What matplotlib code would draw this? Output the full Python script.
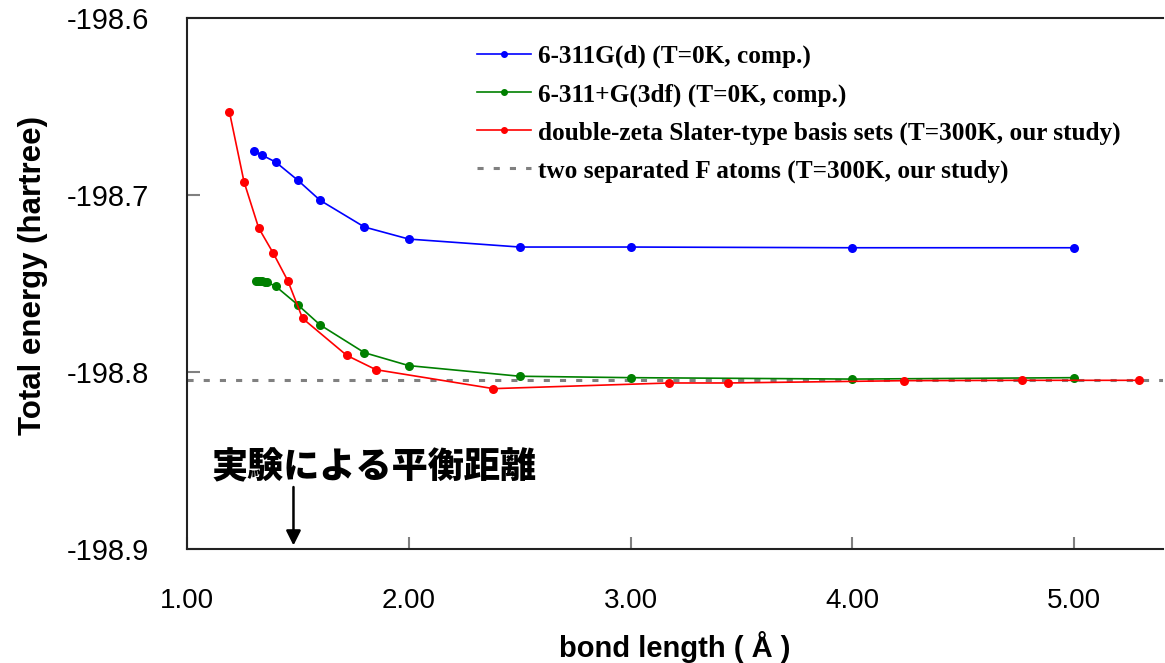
import matplotlib
matplotlib.use("Agg")
import matplotlib.pyplot as plt
from matplotlib.lines import Line2D
from matplotlib.ticker import FormatStrFormatter

plt.rcParams['font.family'] = ['Liberation Sans', 'DejaVu Sans']

# ------------------------
# data (bond length in angstrom, energy in hartree)
# ------------------------
blue_x = [1.30, 1.34, 1.40, 1.50, 1.60, 1.80, 2.00, 2.50, 3.00, 4.00, 5.00]
blue_y = [-198.6753, -198.6776, -198.6814, -198.6917, -198.7030, -198.7181,
          -198.7249, -198.7294, -198.7294, -198.7298, -198.7298]

green_x = [1.31, 1.32, 1.33, 1.34, 1.35, 1.36, 1.40, 1.50, 1.60, 1.80, 2.00,
           2.50, 3.00, 4.00, 5.00]
green_y = [-198.7484, -198.7485, -198.7486, -198.7487, -198.7489, -198.7492,
           -198.7516, -198.7621, -198.7734, -198.7891, -198.7964, -198.8024,
           -198.8032, -198.8040, -198.8032]

red_x = [1.191, 1.257, 1.323, 1.389, 1.455, 1.521, 1.720, 1.852, 2.381,
         3.175, 3.440, 4.233, 4.763, 5.292]
red_y = [-198.6529, -198.6925, -198.7186, -198.7329, -198.7486, -198.7697,
         -198.7906, -198.7987, -198.8094, -198.8062, -198.8062, -198.8049,
         -198.8047, -198.8047]

atoms_y = -198.8046
exp_r = 1.48

labels = ["6-311G(d) (T=0K, comp.)",
          "6-311+G(3df) (T=0K, comp.)",
          "double-zeta Slater-type basis sets (T=300K, our study)",
          "two separated F atoms (T=300K, our study)"]
colors = ["#0000ff", "#008000", "#ff0000", "#808080"]

# ------------------------
# plot
# ------------------------
fig = plt.figure(figsize=(11.65, 6.63), dpi=100)
ax = fig.add_axes([187 / 1165, 1 - 549 / 663, (1163 - 187) / 1165, (549 - 18) / 663])

ax.axhline(atoms_y, color=colors[3], lw=2.2, dashes=(2, 3.3), zorder=1)
for xs, ys, c in [(blue_x, blue_y, colors[0]), (green_x, green_y, colors[1]),
                  (red_x, red_y, colors[2])]:
    ax.plot(xs, ys, color=c, lw=1.2, marker='o', markersize=6.5,
            markeredgewidth=0, zorder=3)

ax.set_xlim(1.0, 5.4)
ax.set_ylim(-198.9, -198.6)
ax.set_xticks([1, 2, 3, 4, 5])
ax.set_yticks([-198.9, -198.8, -198.7, -198.6])
ax.xaxis.set_major_formatter(FormatStrFormatter('%.2f'))
ax.yaxis.set_major_formatter(FormatStrFormatter('%.1f'))
ax.tick_params(axis='both', direction='in', length=9, width=1.5,
               color='#808080', labelsize=20)
ax.tick_params(axis='y', pad=27, labelsize=21)
ax.tick_params(axis='x', pad=28)

for s in ['left', 'bottom', 'top']:
    ax.spines[s].set_linewidth(1.5)
    ax.spines[s].set_color('#222222')
ax.spines['right'].set_visible(False)

ax.set_xlabel("bond length ( Å )", fontsize=21, fontweight='bold', labelpad=12)
ax.set_ylabel("Total energy (hartree)", fontsize=22.5, fontweight='bold')
ax.yaxis.set_label_coords(-0.142, 0.515)

# 実験値の矢印
ax.annotate("", xy=(exp_r, -198.898), xytext=(exp_r, -198.865),
            arrowprops=dict(arrowstyle='-|>', color='black', lw=1.8,
                            mutation_scale=22, shrinkA=0, shrinkB=0))
ax.text(1.113, -198.854, "実験による平衡距離", fontsize=26, fontweight='black',
        family=['Noto Sans CJK JP', 'DejaVu Sans'], ha='left', va='center')

handles = [Line2D([], [], color=colors[0], lw=1.2, marker='o', markersize=4),
           Line2D([], [], color=colors[1], lw=1.2, marker='o', markersize=4),
           Line2D([], [], color=colors[2], lw=1.2, marker='o', markersize=4),
           Line2D([], [], color=colors[3], lw=2.2, dashes=(2, 3.3))]
fig.legend(handles, labels, loc='upper left',
           bbox_to_anchor=(477 / 1165, 1 - 45 / 663), frameon=False,
           borderpad=0, borderaxespad=0, handlelength=2.15, handletextpad=0.28,
           labelspacing=0.58,
           prop={'family': 'Liberation Serif', 'weight': 'bold', 'size': 18.2})

fig.savefig("out.png", dpi=100)
